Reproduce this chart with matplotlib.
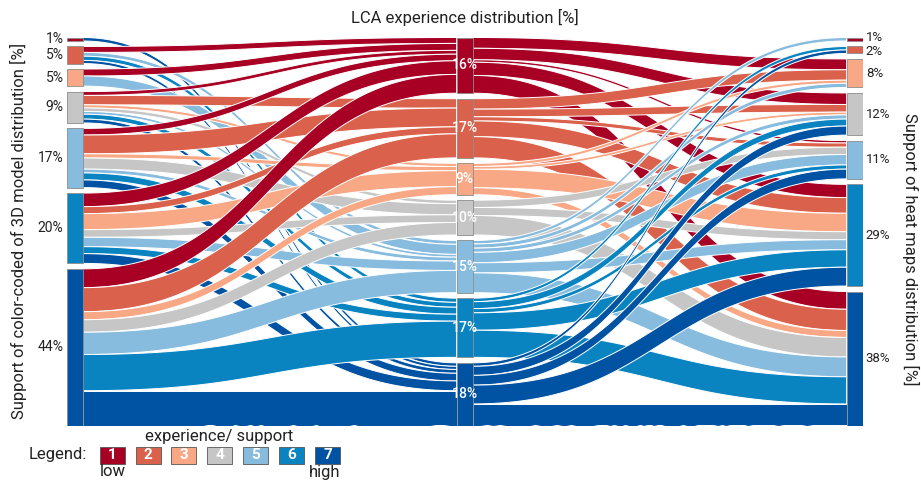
import numpy as np
import matplotlib.pyplot as plt
from matplotlib.patches import Rectangle

plt.rcParams['font.family'] = ['Roboto', 'DejaVu Sans']

levels = ['1', '2', '3', '4', '5', '6', '7']
colors = ['#a80024', '#da614b', '#f9a886', '#c6c6c6', '#88bcdf', '#0a84c1', '#0052a2']

model_labels = ['1%', '5%', '5%', '9%', '17%', '20%', '44%']
exp_labels = ['16%', '17%', '9%', '10%', '15%', '17%', '18%']
heat_labels = ['1%', '2%', '8%', '12%', '11%', '29%', '38%']

# rows: support of colour-coded 3D model (1..7), cols: LCA experience (1..7), in %
model_to_exp = np.array([
    [0.0, 0.0, 0.0, 0.0, 0.0, 0.0, 1.0],
    [1.7, 0.0, 0.0, 0.0, 1.1, 1.2, 0.9],
    [2.0, 0.0, 0.0, 0.0, 2.9, 0.0, 0.0],
    [1.1, 2.7, 0.9, 1.0, 0.8, 1.4, 1.1],
    [1.9, 5.4, 1.2, 3.2, 1.1, 2.0, 2.2],
    [3.9, 2.0, 4.6, 2.2, 2.7, 2.0, 2.8],
    [5.4, 6.9, 2.3, 3.6, 6.4, 10.4, 10.0],
])
# rows: LCA experience (1..7), cols: support of heat maps (1..7), in %
exp_to_heat = np.array([
    [0.0, 0.0, 3.1, 3.3, 0.7, 3.8, 5.1],
    [0.0, 0.0, 3.0, 2.2, 1.2, 4.5, 6.1],
    [0.0, 0.0, 0.9, 0.8, 0.0, 5.3, 2.0],
    [0.0, 0.0, 0.0, 0.0, 2.1, 2.3, 5.6],
    [1.0, 0.0, 1.2, 1.2, 3.0, 2.9, 5.7],
    [0.0, 1.0, 0.0, 2.0, 1.2, 5.0, 7.8],
    [0.0, 1.0, 0.0, 2.6, 2.8, 5.4, 6.2],
])

W, H = 921, 483
gap = 1.58          # space between nodes, in % units
nw = 16 / 390       # node width (column spacing = 1)

fig = plt.figure(figsize=(W / 100, H / 100), dpi=100)
ax = fig.add_axes([66.7 / W, (H - 425.5) / H, 796 / W, 388 / H])

left_tot = model_to_exp.sum(axis=1)
mid_tot = model_to_exp.sum(axis=0)
right_tot = exp_to_heat.sum(axis=0)
total_h = left_tot.sum() + 6 * gap


def tops(tot):
    return np.concatenate([[0], np.cumsum(tot)[:-1]]) + np.arange(len(tot)) * gap


left_top, mid_top, right_top = tops(left_tot), tops(mid_tot), tops(right_tot)


def ribbon(x0, x1, y0, y1, h, color):
    u = np.linspace(0, 1, 80)
    xm = (x0 + x1) / 2
    b0, b1, b2, b3 = (1 - u) ** 3, 3 * (1 - u) ** 2 * u, 3 * (1 - u) * u ** 2, u ** 3
    x = b0 * x0 + (b1 + b2) * xm + b3 * x1
    y = (b0 + b1) * y0 + (b2 + b3) * y1
    ax.fill(np.concatenate([x, x[::-1]]), np.concatenate([y, (y + h)[::-1]]),
            facecolor=color, edgecolor='white', lw=0.7, zorder=1)


def draw_flows(mat, src_top, dst_top, col, color_by_src):
    n_src, n_dst = mat.shape
    # at the target node, incoming flows are stacked by source
    dst_pos = np.zeros_like(mat)
    for j in range(n_dst):
        y = dst_top[j]
        for i in range(n_src):
            dst_pos[i, j] = y
            y += mat[i, j]
    for i in range(n_src):
        y = src_top[i]
        for j in range(n_dst):
            v = mat[i, j]
            if v > 0:
                c = colors[i] if color_by_src else colors[j]
                ribbon(col + nw, col + 1, y, dst_pos[i, j], v, c)
            y += v


draw_flows(model_to_exp, left_top, mid_top, 0, False)
draw_flows(exp_to_heat, mid_top, right_top, 1, True)

for col, tp, tot in [(0, left_top, left_tot), (1, mid_top, mid_tot), (2, right_top, right_tot)]:
    for k in range(7):
        ax.add_patch(Rectangle((col, tp[k]), nw, tot[k], facecolor=colors[k],
                               edgecolor='#8c8c8c', lw=0.6, zorder=3))

right_nudge = [-0.5, 0.5, 0, 0, 0, 0, 0]
for k in range(7):
    ax.text(-0.008, left_top[k] + left_tot[k] / 2, model_labels[k], ha='right', va='center',
            fontsize=10, color='#222222')
    ax.text(1 + nw / 2, mid_top[k] + mid_tot[k] / 2, exp_labels[k], ha='center', va='center',
            fontsize=10, color='white', fontweight='medium', zorder=4)
    ax.text(2 + nw + 0.008, right_top[k] + right_tot[k] / 2 + right_nudge[k], heat_labels[k],
            ha='left', va='center', fontsize=9.5, color='#222222')

ax.set_xlim(0, 2 + nw)
ax.set_ylim(total_h, 0)
ax.axis('off')

fig.text(465 / W, 1 - 17 / H, 'LCA experience distribution [%]', ha='center', va='center',
         fontsize=12, color='#222222')
fig.text(18 / W, 1 - 231 / H, 'Support of color-coded of 3D model distribution [%]',
         rotation=90, ha='center', va='center', fontsize=12, color='#222222')
fig.text(911 / W, 1 - 249 / H, 'Support of heat maps distribution [%]',
         rotation=270, ha='center', va='center', fontsize=12, color='#222222')

# legend
fig.text(29 / W, 1 - 454 / H, 'Legend:', ha='left', va='center', fontsize=12, color='#222222')
box_x = [100, 135.5, 171, 207, 243, 279, 315]
for k, bx in enumerate(box_x):
    fig.patches.append(Rectangle((bx / W, 1 - 463.5 / H), 25 / W, 17 / H, transform=fig.transFigure,
                                 facecolor=colors[k], edgecolor='#555555', lw=0.6))
    fig.text((bx + 12.5) / W, 1 - 455 / H, levels[k], ha='center', va='center',
             fontsize=11, color='white', fontweight='bold')
fig.text(219.5 / W, 1 - 437 / H, 'experience/ support', ha='center', va='center',
         fontsize=12, color='#222222')
fig.text(112.5 / W, 1 - 472 / H, 'low', ha='center', va='center', fontsize=12, color='#222222')
fig.text(325 / W, 1 - 472 / H, 'high', ha='center', va='center', fontsize=12, color='#222222')

fig.savefig('out.png', dpi=100)
